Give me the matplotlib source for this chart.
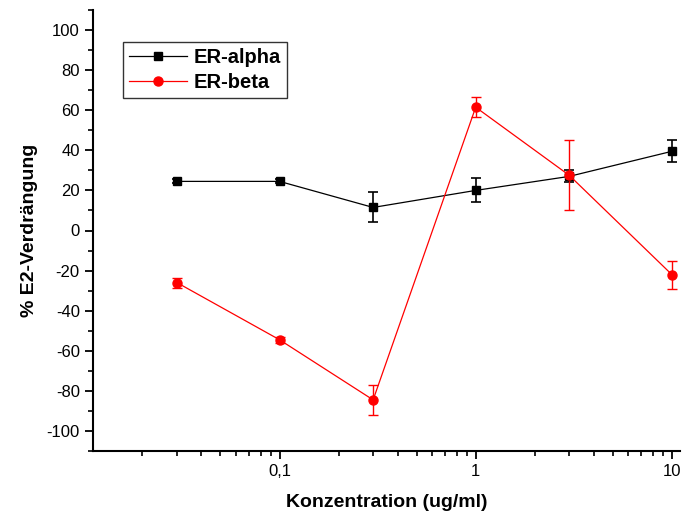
import matplotlib
matplotlib.use("Agg")
import matplotlib.pyplot as plt
from matplotlib.lines import Line2D
from matplotlib.ticker import FixedLocator, FuncFormatter, LogLocator, NullFormatter, MultipleLocator

plt.rcParams['font.family'] = ['Liberation Sans', 'DejaVu Sans']
plt.rcParams['axes.unicode_minus'] = False

conc = [0.03, 0.1, 0.3, 1, 3, 10]
alpha_vals = [24.5, 24.5, 11.5, 20, 27, 39.5]
alpha_err = [1, 1, 7.5, 6, 3, 5.5]
beta_vals = [-26, -54.5, -84.5, 61.5, 27.5, -22]
beta_err = [2.5, 1.5, 7.5, 5, 17.5, 7]

fig = plt.figure(figsize=(6.82, 5.24), dpi=100)
ax = fig.add_axes([93 / 682, 73 / 524, 587 / 682, 441 / 524])

ax.errorbar(conc, alpha_vals, yerr=alpha_err, color='black', marker='s',
            markersize=6, linewidth=0.9, elinewidth=1.2, capsize=3.6,
            capthick=1.2)
ax.errorbar(conc, beta_vals, yerr=beta_err, color='red', marker='o',
            markersize=6.5, linewidth=0.9, elinewidth=1.0, capsize=3.6,
            capthick=1.0)

ax.set_xscale('log')
ax.set_xlim(0.0112, 11)
ax.set_ylim(-110, 110)

ax.xaxis.set_major_locator(FixedLocator([0.1, 1, 10]))
ax.xaxis.set_major_formatter(FuncFormatter(lambda v, p: {0.1: '0,1', 1: '1', 10: '10'}.get(round(v, 3), '')))
ax.xaxis.set_minor_locator(LogLocator(base=10, subs=range(2, 10), numticks=20))
ax.xaxis.set_minor_formatter(NullFormatter())
ax.yaxis.set_minor_locator(MultipleLocator(10))
ax.set_yticks(range(-100, 101, 20))

for s in ['top', 'right']:
    ax.spines[s].set_visible(False)
for s in ['left', 'bottom']:
    ax.spines[s].set_linewidth(1.5)

ax.tick_params(which='major', direction='out', length=6, width=1.3, labelsize=12)
ax.tick_params(which='minor', direction='out', length=3.5, width=1.2)

ax.set_xlabel('Konzentration (ug/ml)', fontsize=14, fontweight='bold', labelpad=11)
ax.set_ylabel('% E2-Verdrängung', fontsize=14, fontweight='bold', labelpad=6)

handles = [Line2D([], [], color='black', marker='s', markersize=6, linewidth=0.9),
           Line2D([], [], color='red', marker='o', markersize=6.5, linewidth=0.9)]
leg = ax.legend(handles, ['ER-alpha', 'ER-beta'], loc='upper left',
                bbox_to_anchor=(0.051, 0.928), fancybox=False,
                edgecolor='black', prop={'weight': 'bold', 'size': 14.5},
                handlelength=2.9, borderpad=0.3, labelspacing=0.3,
                handletextpad=0.3, borderaxespad=0)
leg.get_frame().set_linewidth(1.0)

fig.savefig('out.png', dpi=100)
